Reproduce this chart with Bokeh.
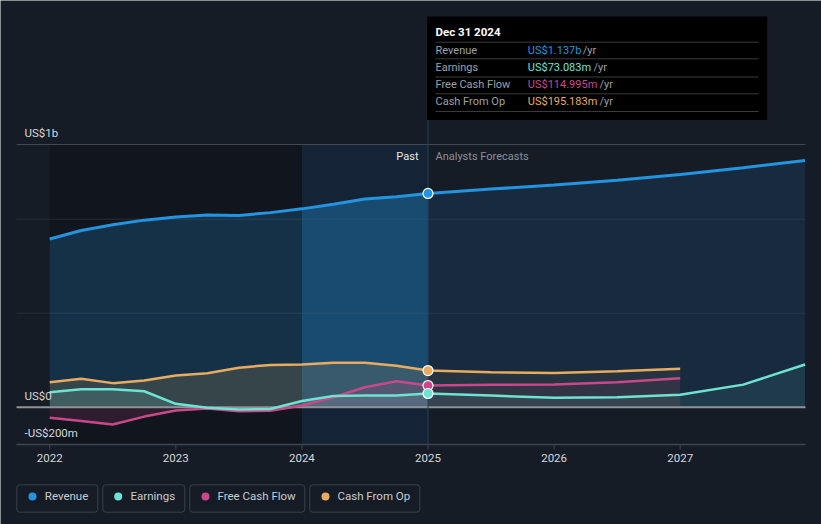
from bokeh.plotting import figure
from bokeh.models import Range1d
from bokeh.core.properties import value
from bokeh.embed import file_html
from bokeh.resources import INLINE

# ---------------- data (US$ millions, x in fractional years) ----------------
hist_x = [2022.0, 2022.25, 2022.5, 2022.75, 2023.0, 2023.25, 2023.5, 2023.75,
          2024.0, 2024.25, 2024.5, 2024.75, 2025.0]
revenue_hist = [895, 940, 970, 995, 1012, 1022, 1020, 1035, 1055, 1080, 1108, 1120, 1137]
earnings_hist = [80, 96, 96, 85, 18, -3, -12, -10, 33, 59, 62, 62, 73]
fcf_hist = [-56, -74, -92, -50, -18, -7, -21, -19, 9, 53, 106, 138, 115]
cfo_hist = [133, 151, 128, 142, 169, 181, 210, 225, 227, 236, 236, 220, 195]

rev_fc_x = [2025.0, 2025.5, 2026.0, 2026.5, 2027.0, 2027.5, 2027.99]
revenue_fc = [1137, 1160, 1182, 1207, 1238, 1274, 1312]
earn_fc_x = [2025.0, 2025.5, 2026.0, 2026.5, 2027.0, 2027.5, 2027.99]
earnings_fc = [73, 62, 50, 53, 66, 120, 227]
cash_fc_x = [2025.0, 2025.5, 2026.0, 2026.5, 2027.0]
fcf_fc = [115, 119, 121, 133, 154]
cfo_fc = [195, 186, 182, 191, 204]

year_ticks = [2022, 2023, 2024, 2025, 2026, 2027]
y_labels = ["US$1b", "US$0", "-US$200m"]
series_names = ["Revenue", "Earnings", "Free Cash Flow", "Cash From Op"]
tip_date = "Dec 31 2024"
tip_values = ["US$1.137b", "US$73.083m", "US$114.995m", "US$195.183m"]

# ---------------- style ----------------
BG = "#161c26"
C_REV, C_EARN, C_FCF, C_CFO = "#2394df", "#6fe3d2", "#c8488a", "#e8ac60"
FONT = value("Roboto")

# page pixel -> data helpers (for decorations only)
def xd(px):
    return 2022 + (px - 49.2) / 126.1

def yd(py):
    return (406.7 - py) / 0.188

p = figure(width=821, height=524, output_backend="svg", toolbar_location=None,
           x_axis_location=None, y_axis_location=None, min_border=0,
           x_range=Range1d(xd(0), xd(821)), y_range=Range1d(yd(524), yd(0)),
           background_fill_color=BG, border_fill_color=BG, outline_line_color=None)
p.grid.visible = False

TOP, BOT = yd(144), yd(444)
LEFT, RIGHT = xd(16), xd(805)

# background regions
p.quad(left=[hist_x[0]], right=[2024], top=[TOP], bottom=[BOT], fill_color="#11151d", line_color=None)
p.quad(left=[2024], right=[2025], top=[TOP], bottom=[BOT], fill_color="#142335", line_color=None)

# grid lines
p.segment(x0=[LEFT] * 2, x1=[RIGHT] * 2, y0=[500, 1000], y1=[500, 1000], line_color="#272d37", line_width=1)
p.segment(x0=[LEFT], x1=[RIGHT], y0=[TOP], y1=[TOP], line_color="#424852", line_width=1)

# fills split into periods
def fills(xs, ys, color, alphas):
    segs = [(0, 9), (8, 13)]
    for (a, b), al in zip(segs, alphas[:2]):
        p.varea(x=xs[a:b], y1=[0] * (b - a), y2=ys[a:b], fill_color=color, fill_alpha=al)

fills(hist_x, revenue_hist, C_REV, [0.22, 0.36])
p.varea(x=rev_fc_x, y1=[0] * len(rev_fc_x), y2=revenue_fc, fill_color=C_REV, fill_alpha=0.13)
for ys, col in [(cfo_hist, C_CFO), (earnings_hist, C_EARN), (fcf_hist, C_FCF)]:
    fills(hist_x, ys, col, [0.16, 0.16])
p.varea(x=cash_fc_x, y1=[0] * len(cash_fc_x), y2=cfo_fc, fill_color=C_CFO, fill_alpha=0.07)
p.varea(x=cash_fc_x, y1=[0] * len(cash_fc_x), y2=fcf_fc, fill_color=C_FCF, fill_alpha=0.07)
p.varea(x=earn_fc_x, y1=[0] * len(earn_fc_x), y2=earnings_fc, fill_color=C_EARN, fill_alpha=0.09)

# zero line and bottom axis
p.segment(x0=[LEFT], x1=[RIGHT], y0=[0], y1=[0], line_color="#8e9196", line_width=2)
p.segment(x0=[LEFT], x1=[RIGHT], y0=[BOT], y1=[BOT], line_color="#3f4550", line_width=1.5)
p.segment(x0=year_ticks, x1=year_ticks, y0=[BOT] * 6, y1=[yd(449)] * 6, line_color="#3f4550", line_width=1)

# vertical marker line at the tooltip date
p.segment(x0=[2025], x1=[2025], y0=[BOT], y1=[yd(119)], line_color="#24405c", line_width=1)

# series lines
p.line(hist_x + rev_fc_x[1:], revenue_hist + revenue_fc[1:], line_color=C_REV, line_width=3)
p.line(hist_x + cash_fc_x[1:], cfo_hist + cfo_fc[1:], line_color=C_CFO, line_width=2.5)
p.line(hist_x + cash_fc_x[1:], fcf_hist + fcf_fc[1:], line_color=C_FCF, line_width=2.5)
p.line(hist_x + earn_fc_x[1:], earnings_hist + earnings_fc[1:], line_color=C_EARN, line_width=2.5)

# markers at the last reported point
p.scatter(x=[hist_x[-1]] * 4, y=[revenue_hist[-1], cfo_hist[-1], fcf_hist[-1], earnings_hist[-1]],
          size=10, fill_color=[C_REV, C_CFO, C_FCF, C_EARN], line_color="white", line_width=1.2)

# axis labels
p.text(x=[xd(24)] * 3, y=[yd(132), yd(395), yd(432)], text=y_labels, text_font=FONT,
       text_font_size="11.5px", text_color="#d5d8dc", text_baseline="middle", text_align="left")
p.text(x=year_ticks, y=[yd(457)] * 6, text=[str(t) for t in year_ticks], text_font=FONT,
       text_font_size="11.5px", text_color="#d5d8dc", text_baseline="middle", text_align="center")
p.text(x=[xd(418)], y=[yd(156)], text=["Past"], text_font=FONT, text_font_size="11px",
       text_color="#e8e8e8", text_baseline="middle", text_align="right")
p.text(x=[xd(435)], y=[yd(156)], text=["Analysts Forecasts"], text_font=FONT, text_font_size="11px",
       text_color="#8b9098", text_baseline="middle", text_align="left")

# tooltip box
p.quad(left=[xd(426.7)], right=[xd(766.7)], top=[yd(16)], bottom=[yd(119.5)],
       fill_color="#000000", line_color=None)
sep_y = [yd(v) for v in [41.7, 58.3, 76.5, 93.3, 111]]
p.segment(x0=[xd(435)] * 5, x1=[xd(758)] * 5, y0=sep_y, y1=sep_y, line_color="#3a3a3a", line_width=1)
p.text(x=[xd(435)], y=[yd(31)], text=[tip_date], text_font=FONT, text_font_size="11.5px",
       text_font_style="bold", text_color="#ffffff", text_baseline="middle")
row_y = [yd(v) for v in [49.5, 66.5, 84, 101]]
p.text(x=[xd(435)] * 4, y=row_y, text=series_names, text_font=FONT, text_font_size="11px",
       text_color="#9aa0a8", text_baseline="middle")
p.text(x=[xd(527.3)] * 4, y=row_y, text=tip_values, text_font=FONT, text_font_size="11px",
       text_color=[C_REV, C_EARN, C_FCF, C_CFO], text_baseline="middle")
p.text(x=[xd(v) for v in [582.3, 593, 599, 599]], y=row_y, text=["/yr"] * 4, text_font=FONT,
       text_font_size="11px", text_color="#9aa0a8", text_baseline="middle")

# legend boxes
box_l = [16.3, 102.3, 189.3, 309.3]
box_r = [97.3, 184.3, 304.3, 419.3]
p.quad(left=[xd(v) for v in box_l], right=[xd(v) for v in box_r], top=[yd(484.3)] * 4,
       bottom=[yd(511.7)] * 4, fill_color=None, line_color="#3b414b", line_width=1, border_radius=3)
p.scatter(x=[xd(v) for v in [32, 117.7, 205, 325]], y=[yd(496)] * 4, size=8,
          fill_color=[C_REV, C_EARN, C_FCF, C_CFO], line_color=None)
p.text(x=[xd(v) for v in [44.3, 130, 217, 337]], y=[yd(495.5)] * 4, text=series_names, text_font=FONT,
       text_font_size="11.5px", text_color="#c9ccd1", text_baseline="middle")

open("out.html", "w").write(file_html(p, INLINE))
